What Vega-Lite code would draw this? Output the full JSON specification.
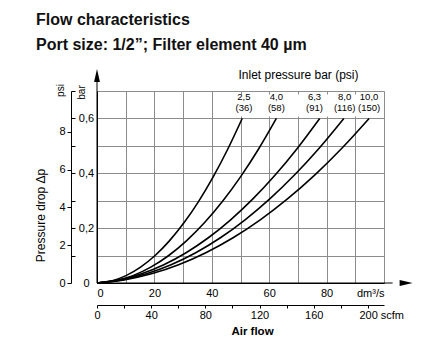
{
  "$schema": "https://vega.github.io/schema/vega-lite/v6.json",
  "width": 287,
  "height": 192,
  "autosize": {"type": "none"},
  "padding": {"left": 97, "top": 91, "right": 58, "bottom": 60},
  "background": "white",
  "config": {
    "font": "Liberation Sans",
    "view": {"stroke": null},
    "axis": {"labelFont": "Liberation Sans", "titleFont": "Liberation Sans", "labelColor": "black", "titleColor": "black", "labelFontSize": 11, "domainColor": "black", "tickColor": "black", "domainWidth": 1}
  },
  "title": {
    "text": "Flow characteristics",
    "subtitle": "Port size: 1/2\u201d; Filter element 40 \u00b5m",
    "anchor": "start",
    "frame": "group",
    "dx": -61,
    "offset": 15,
    "font": "Liberation Sans",
    "fontSize": 16,
    "fontWeight": "bold",
    "color": "#111",
    "subtitleFont": "Liberation Sans",
    "subtitleFontSize": 16,
    "subtitleFontWeight": "bold",
    "subtitleColor": "#111",
    "subtitlePadding": 9
  },
  "datasets": {
    "curves": [
      {"pressure": "2,5", "flow": 0, "dp": 0},
      {"pressure": "2,5", "flow": 5.06, "dp": 0.0076},
      {"pressure": "2,5", "flow": 10.12, "dp": 0.0269},
      {"pressure": "2,5", "flow": 15.18, "dp": 0.0578},
      {"pressure": "2,5", "flow": 20.24, "dp": 0.1003},
      {"pressure": "2,5", "flow": 25.3, "dp": 0.1545},
      {"pressure": "2,5", "flow": 30.36, "dp": 0.2203},
      {"pressure": "2,5", "flow": 35.42, "dp": 0.2978},
      {"pressure": "2,5", "flow": 40.48, "dp": 0.3869},
      {"pressure": "2,5", "flow": 45.54, "dp": 0.4876},
      {"pressure": "2,5", "flow": 50.6, "dp": 0.6},
      {"pressure": "4,0", "flow": 0, "dp": 0},
      {"pressure": "4,0", "flow": 6.25, "dp": 0.0076},
      {"pressure": "4,0", "flow": 12.5, "dp": 0.0269},
      {"pressure": "4,0", "flow": 18.75, "dp": 0.0578},
      {"pressure": "4,0", "flow": 25, "dp": 0.1003},
      {"pressure": "4,0", "flow": 31.25, "dp": 0.1545},
      {"pressure": "4,0", "flow": 37.5, "dp": 0.2203},
      {"pressure": "4,0", "flow": 43.75, "dp": 0.2978},
      {"pressure": "4,0", "flow": 50, "dp": 0.3869},
      {"pressure": "4,0", "flow": 56.25, "dp": 0.4876},
      {"pressure": "4,0", "flow": 62.5, "dp": 0.6},
      {"pressure": "6,3", "flow": 0, "dp": 0},
      {"pressure": "6,3", "flow": 7.76, "dp": 0.0114},
      {"pressure": "6,3", "flow": 15.52, "dp": 0.0336},
      {"pressure": "6,3", "flow": 23.28, "dp": 0.0666},
      {"pressure": "6,3", "flow": 31.04, "dp": 0.1104},
      {"pressure": "6,3", "flow": 38.8, "dp": 0.165},
      {"pressure": "6,3", "flow": 46.56, "dp": 0.2304},
      {"pressure": "6,3", "flow": 54.32, "dp": 0.3066},
      {"pressure": "6,3", "flow": 62.08, "dp": 0.3936},
      {"pressure": "6,3", "flow": 69.84, "dp": 0.4914},
      {"pressure": "6,3", "flow": 77.6, "dp": 0.6},
      {"pressure": "8,0", "flow": 0, "dp": 0},
      {"pressure": "8,0", "flow": 8.6, "dp": 0.0114},
      {"pressure": "8,0", "flow": 17.2, "dp": 0.0336},
      {"pressure": "8,0", "flow": 25.8, "dp": 0.0666},
      {"pressure": "8,0", "flow": 34.4, "dp": 0.1104},
      {"pressure": "8,0", "flow": 43, "dp": 0.165},
      {"pressure": "8,0", "flow": 51.6, "dp": 0.2304},
      {"pressure": "8,0", "flow": 60.2, "dp": 0.3066},
      {"pressure": "8,0", "flow": 68.8, "dp": 0.3936},
      {"pressure": "8,0", "flow": 77.4, "dp": 0.4914},
      {"pressure": "8,0", "flow": 86, "dp": 0.6},
      {"pressure": "10,0", "flow": 0, "dp": 0},
      {"pressure": "10,0", "flow": 9.48, "dp": 0.0114},
      {"pressure": "10,0", "flow": 18.96, "dp": 0.0336},
      {"pressure": "10,0", "flow": 28.44, "dp": 0.0666},
      {"pressure": "10,0", "flow": 37.92, "dp": 0.1104},
      {"pressure": "10,0", "flow": 47.4, "dp": 0.165},
      {"pressure": "10,0", "flow": 56.88, "dp": 0.2304},
      {"pressure": "10,0", "flow": 66.36, "dp": 0.3066},
      {"pressure": "10,0", "flow": 75.84, "dp": 0.3936},
      {"pressure": "10,0", "flow": 85.32, "dp": 0.4914},
      {"pressure": "10,0", "flow": 94.8, "dp": 0.6}
    ],
    "labels": [
      {"label": "2,5\n(36)", "flow": 51.2, "dp": 0.6},
      {"label": "4,0\n(58)", "flow": 62.5, "dp": 0.6},
      {"label": "6,3\n(91)", "flow": 75.8, "dp": 0.6},
      {"label": "8,0\n(116)", "flow": 86.3, "dp": 0.6},
      {"label": "10,0\n(150)", "flow": 94.8, "dp": 0.6}
    ],
    "one": [{}]
  },
  "layer": [
    {
      "data": {"name": "curves"},
      "mark": {"type": "line", "color": "black", "strokeWidth": 1.6, "interpolate": "monotone"},
      "encoding": {
        "x": {
          "field": "flow", "type": "quantitative",
          "scale": {"domain": [0, 100], "nice": false, "zero": false},
          "axis": {
            "orient": "bottom", "values": [0, 10, 20, 30, 40, 50, 60, 70, 80, 90, 100],
            "grid": true, "gridColor": "#8c8c8c", "gridWidth": 1, "ticks": false, "labelPadding": 4,
            "labelExpr": "datum.value == 100 ? 'dm\u00b3/s' : (datum.value % 20 == 0 ? '' + datum.value : '')",
            "title": null
          }
        },
        "y": {
          "field": "dp", "type": "quantitative",
          "scale": {"domain": [0, 0.7], "nice": false, "zero": false},
          "axis": {
            "orient": "left", "values": [0, 0.1, 0.2, 0.3, 0.4, 0.5, 0.6, 0.7],
            "grid": true, "gridColor": "#8c8c8c", "gridWidth": 1, "ticks": false,
            "labelAlign": "center", "labelPadding": 11,
            "labelExpr": "datum.value == 0 ? '0' : (round(datum.value * 10) % 2 == 0 && datum.value < 0.65 ? '0,' + round(datum.value * 10) : '')",
            "title": "bar", "titleAngle": 270, "titleX": -16, "titleY": 1, "titleAlign": "center", "titleBaseline": "middle",
            "titleFontWeight": "normal", "titleFontSize": 10
          }
        },
        "detail": {"field": "pressure", "type": "nominal"}
      }
    },
    {
      "data": {"name": "one"},
      "mark": {"type": "rect", "fill": "white"},
      "encoding": {
        "x": {"datum": 42, "type": "quantitative", "scale": {"domain": [0, 100], "nice": false, "zero": false}, "axis": null},
        "x2": {"datum": 99.6},
        "y": {"datum": 0.607, "type": "quantitative", "scale": {"domain": [0, 0.7], "nice": false, "zero": false}, "axis": null},
        "y2": {"datum": 0.687}
      }
    },
    {
      "data": {"name": "curves"},
      "mark": {"type": "point", "opacity": 0},
      "encoding": {
        "x": {
          "field": "flow", "type": "quantitative",
          "scale": {"domain": [0, 100], "nice": false, "zero": false},
          "axis": {
            "orient": "bottom", "offset": 22,
            "values": [0, 9.43894, 18.87788, 28.31682, 37.75576, 47.1947, 56.63364, 66.07258, 75.51152, 84.95046, 94.3894],
            "grid": false, "tickSize": 3, "labelPadding": 1,
            "labelExpr": "round(datum.value / 0.471947) % 40 == 0 ? (round(datum.value / 0.471947) == 200 ? '200 scfm' : '' + round(datum.value / 0.471947)) : ''",
            "labelAlign": {"condition": {"test": "datum.value > 90", "value": "left"}, "value": "center"},
            "labelOffset": {"condition": {"test": "datum.value > 90", "value": -9}, "value": 0},
            "title": "Air flow", "titleFontWeight": "bold", "titleFontSize": 11.5,
            "titleX": 155, "titleY": 26, "titleAlign": "center", "titleBaseline": "middle"
          }
        },
        "y": {
          "field": "dp", "type": "quantitative",
          "scale": {"domain": [0, 0.7], "nice": false, "zero": false},
          "axis": {
            "orient": "left", "offset": 26,
            "values": [0, 0.137895, 0.27579, 0.413686, 0.551581],
            "grid": false, "tickSize": 4, "labelPadding": 2,
            "labelExpr": "'' + round(datum.value / 0.0689476)",
            "title": "psi", "titleAngle": 270, "titleX": -10.5, "titleY": -1, "titleAlign": "center", "titleBaseline": "middle",
            "titleFontWeight": "normal", "titleFontSize": 10
          }
        }
      }
    },
    {
      "data": {"name": "curves"},
      "mark": {"type": "point", "opacity": 0},
      "encoding": {
        "x": {"field": "flow", "type": "quantitative", "scale": {"domain": [0, 100], "nice": false, "zero": false}, "axis": null},
        "y": {
          "field": "dp", "type": "quantitative",
          "scale": {"domain": [0, 0.7], "nice": false, "zero": false},
          "axis": {
            "orient": "left", "offset": 26,
            "values": [0.1, 0.2, 0.3, 0.4, 0.5, 0.6, 0.7],
            "grid": false, "domain": false, "labels": false, "tickSize": -4, "title": null
          }
        }
      }
    },
    {
      "data": {"name": "labels"},
      "mark": {"type": "text", "lineBreak": "\n", "baseline": "bottom", "align": "center", "dy": -16.4, "fontSize": 9.5, "lineHeight": 11.4, "color": "black"},
      "encoding": {
        "x": {
          "field": "flow", "type": "quantitative",
          "scale": {"domain": [0, 100], "nice": false, "zero": false},
          "axis": {
            "orient": "top", "labels": false, "ticks": false, "domain": false, "grid": false,
            "title": "Inlet pressure bar (psi)", "titleX": 201, "titleY": -17, "titleAlign": "center", "titleBaseline": "middle",
            "titleFontWeight": "normal", "titleFontSize": 12
          }
        },
        "y": {
          "field": "dp", "type": "quantitative",
          "scale": {"domain": [0, 0.7], "nice": false, "zero": false},
          "axis": {
            "orient": "left", "labels": false, "ticks": false, "domain": false, "grid": false,
            "title": "Pressure drop \u0394p", "titleAngle": 270, "titleX": -57, "titleY": 124, "titleAlign": "center", "titleBaseline": "middle",
            "titleFontWeight": "normal", "titleFontSize": 12
          }
        },
        "text": {"field": "label", "type": "nominal"}
      }
    },
    {
      "data": {"name": "one"},
      "mark": {"type": "rule", "color": "black", "strokeWidth": 1},
      "encoding": {
        "x": {"datum": 0, "type": "quantitative", "scale": {"domain": [0, 100], "nice": false, "zero": false}, "axis": null},
        "x2": {"datum": 103},
        "y": {"datum": 0, "type": "quantitative", "scale": {"domain": [0, 0.7], "nice": false, "zero": false}, "axis": null}
      }
    },
    {
      "data": {"name": "one"},
      "mark": {"type": "rule", "color": "black", "strokeWidth": 1},
      "encoding": {
        "x": {"datum": 0, "type": "quantitative", "scale": {"domain": [0, 100], "nice": false, "zero": false}, "axis": null},
        "y": {"datum": 0, "type": "quantitative", "scale": {"domain": [0, 0.7], "nice": false, "zero": false}, "axis": null},
        "y2": {"datum": 0.745}
      }
    },
    {
      "data": {"name": "one"},
      "mark": {"type": "point", "shape": "M1,0L-1,-0.45L-1,0.45Z", "filled": true, "color": "black", "opacity": 1, "size": 169},
      "encoding": {
        "x": {"datum": 107.7, "type": "quantitative", "scale": {"domain": [0, 100], "nice": false, "zero": false}, "axis": null},
        "y": {"datum": 0, "type": "quantitative", "scale": {"domain": [0, 0.7], "nice": false, "zero": false}, "axis": null}
      }
    },
    {
      "data": {"name": "one"},
      "mark": {"type": "point", "shape": "M0,-1L-0.45,1L0.45,1Z", "filled": true, "color": "black", "opacity": 1, "size": 169},
      "encoding": {
        "x": {"datum": 0, "type": "quantitative", "scale": {"domain": [0, 100], "nice": false, "zero": false}, "axis": null},
        "y": {"datum": 0.7565, "type": "quantitative", "scale": {"domain": [0, 0.7], "nice": false, "zero": false}, "axis": null}
      }
    }
  ],
  "resolve": {"axis": {"x": "independent", "y": "independent"}}
}
